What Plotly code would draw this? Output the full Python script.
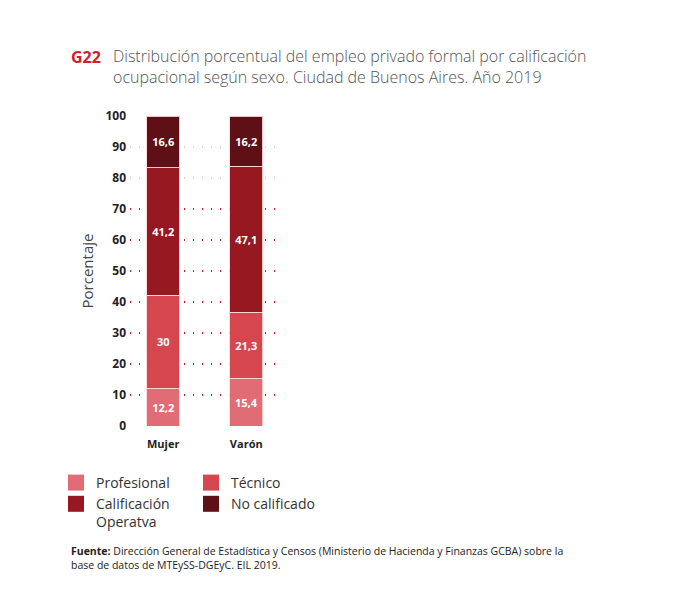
import plotly.graph_objects as go

categories = ["Mujer", "Varón"]
series_names = ["Profesional", "Técnico", "Calificación<br>Operatva", "No calificado"]
profesional = [12.2, 15.4]
tecnico = [30, 21.3]
calificacion_operativa = [41.2, 47.1]
no_calificado = [16.6, 16.2]
colors = ["#E06C76", "#D5464F", "#961820", "#5E1016"]
y_ticks = [0, 10, 20, 30, 40, 50, 60, 70, 80, 90, 100]
strong_grid_ticks = [0, 10, 20, 30, 40, 50, 60, 70]

values = [profesional, tecnico, calificacion_operativa, no_calificado]
legend_ids = ["legend", "legend2", "legend", "legend2"]

FONT = "Open Sans"
OFF = 8  # page body offset
YMAX = 100.05

fig = go.Figure()
for name, vals, col in zip(series_names, values, colors):
    fig.add_trace(go.Bar(
        x=categories, y=vals, name=name, showlegend=False,
        marker=dict(color=col, line=dict(color="rgba(255,215,218,0.9)", width=1)),
        width=0.4,
        texttemplate="%{y}", textposition="inside", insidetextanchor="middle",
        textfont=dict(color="white", size=11, family=FONT, weight="bold"),
        textangle=0, cliponaxis=False,
    ))
# helper trace for the secondary (strong) grid axis
fig.add_trace(go.Scatter(x=[None], y=[None], yaxis="y2", showlegend=False, hoverinfo="skip"))
# legend entries
for name, col, lg in zip(series_names, colors, legend_ids):
    fig.add_trace(go.Scatter(
        x=[None], y=[None], mode="markers", name=name, legend=lg,
        marker=dict(symbol="square", size=16, color=col),
        showlegend=True,
    ))

W, H = 147, 310
L, T = 130 - OFF, 116 - OFF
def px(x):
    return (x - OFF - L) / W
def py(y):
    return (T + H - (y - OFF)) / H

legend_font = dict(size=14, color="#333333", family=FONT)

fig.update_layout(
    width=674, height=616,
    margin=dict(l=L, r=674 - L - W, t=T, b=616 - T - H),
    barmode="stack", separators=",.",
    paper_bgcolor="white", plot_bgcolor="white",
    font=dict(family=FONT, color="#333333"),
    xaxis=dict(range=[-0.4, 1.37], showgrid=False, zeroline=False, showline=False,
               tickfont=dict(size=11, color="#222222", weight="bold", family=FONT),
               ticks="", ticklabelstandoff=10, fixedrange=True),
    yaxis=dict(range=[0, YMAX], tickvals=y_ticks, showgrid=True,
               gridcolor="#F3C9CB", griddash="1px,8px", gridwidth=1.5,
               zeroline=False, showline=False, ticks="", ticklabelstandoff=3,
               tickfont=dict(size=12, color="#222222", weight="bold", family=FONT),
               title=dict(text="Porcentaje", standoff=8,
                          font=dict(size=15, color="#444444", family=FONT))),
    yaxis2=dict(range=[0, YMAX], overlaying="y", side="left", tickvals=strong_grid_ticks,
                showticklabels=False, showgrid=True, gridcolor="#C8161E",
                griddash="1px,8px", gridwidth=1.5, zeroline=False, showline=False, ticks=""),
    legend=dict(x=px(56), y=py(467), xanchor="left", yanchor="top", traceorder="normal",
                font=legend_font, valign="top",
                tracegroupgap=0, itemwidth=30, bgcolor="rgba(0,0,0,0)"),
    legend2=dict(x=px(191), y=py(467), xanchor="left", yanchor="top", traceorder="normal",
                 font=legend_font, valign="top",
                 tracegroupgap=0, itemwidth=30, bgcolor="rgba(0,0,0,0)"),
    annotations=[
        dict(text="<b>G22</b>", x=px(69), y=py(44), xref="paper", yref="paper",
             xanchor="left", yanchor="top", showarrow=False,
             font=dict(size=16, color="#D0202E", family=FONT)),
        dict(text="Distribución porcentual del empleo privado formal por calificación<br>"
                  "ocupacional según sexo. Ciudad de Buenos Aires. Año 2019",
             x=px(111), y=py(43), xref="paper", yref="paper", xanchor="left", yanchor="top",
             align="left", showarrow=False,
             font=dict(size=16, color="#555555", family=FONT, weight=300)),
        dict(text="<b>Fuente:</b> Dirección General de Estadística y Censos (Ministerio de Hacienda y Finanzas GCBA) sobre la<br>"
                  "base de datos de MTEySS-DGEyC. EIL 2019.",
             x=px(69), y=py(542), xref="paper", yref="paper", xanchor="left", yanchor="top",
             align="left", showarrow=False,
             font=dict(size=10.5, color="#222222", family=FONT)),
    ],
)

fig.write_html("out.html")
